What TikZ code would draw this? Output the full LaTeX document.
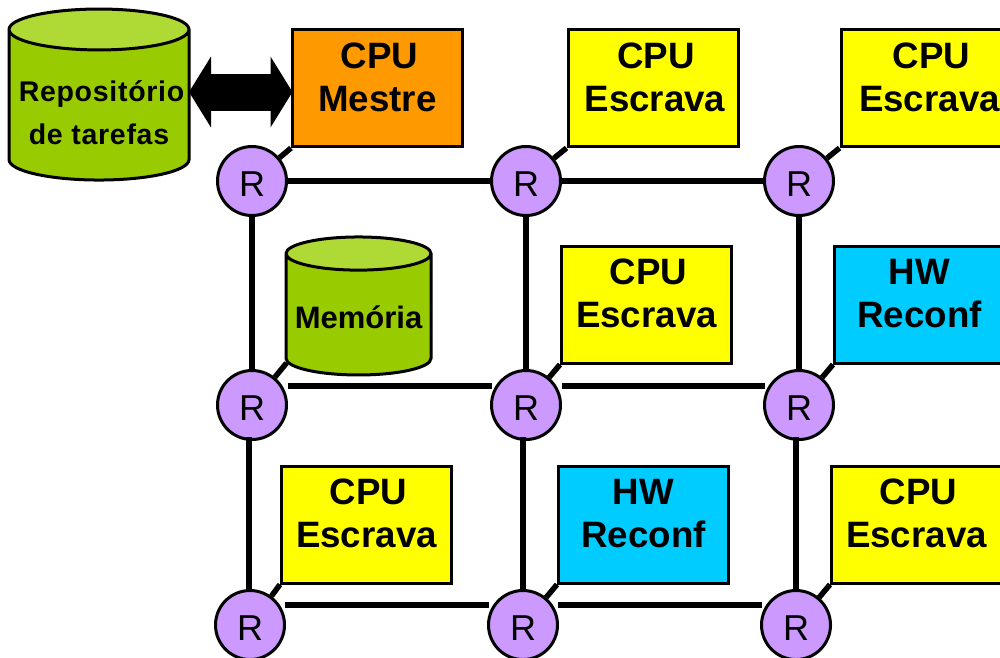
\documentclass[tikz,border=0pt]{standalone}
\usepackage{fontspec}
\setmainfont{Liberation Sans}
\usetikzlibrary{shapes.geometric,arrows.meta}
\definecolor{cylbody}{HTML}{99CC00}
\definecolor{cyltop}{HTML}{AFD934}
\definecolor{masterc}{HTML}{FF9900}
\definecolor{slavec}{HTML}{FFFF00}
\definecolor{hwc}{HTML}{00CCFF}
\definecolor{routerc}{HTML}{CC99FF}
\newcommand\liftup{\\[-21pt]\mbox{}}
\tikzset{
  x=1pt,y=-1pt,
  unitbox/.style={draw=black,line width=3pt,minimum width=170pt,minimum height=117pt,inner sep=0pt,align=center,font=\fontsize{36.7}{43}\selectfont\bfseries},
  master/.style={unitbox,fill=masterc},
  slave/.style={unitbox,fill=slavec},
  hwbox/.style={unitbox,fill=hwc},
  router/.style={circle,draw=black,line width=3pt,fill=routerc,minimum size=69pt,inner sep=0pt,font=\fontsize{36}{36}\selectfont,text height=31.5pt,text depth=0pt},
  store/.style={cylinder,shape border rotate=90,draw=black,line width=3pt,cylinder uses custom fill,cylinder body fill=cylbody,cylinder end fill=cyltop,inner sep=0pt,align=center},
  link/.style={line width=5.5pt,draw=black}
}
\begin{document}
\begin{tikzpicture}
\clip (0,0) rectangle (1000,657);
\fill[white] (0,0) rectangle (1000,657);
% routers
\node[router] (r11) at (252,181) {R};
\node[router] (r12) at (526,181) {R};
\node[router] (r13) at (799,181) {R};
\node[router] (r21) at (252,405) {R};
\node[router] (r22) at (526,405) {R};
\node[router] (r23) at (799,405) {R};
\node[router] (r31) at (250,625) {R};
\node[router] (r32) at (523,625) {R};
\node[router] (r33) at (796,625) {R};
% processing elements
\node[master] (m) at (377.5,88) {\hspace*{4pt}CPU\\Mestre\liftup};
\node[slave] (s12) at (653,88) {\hspace*{6pt}CPU\\\hspace*{4pt}Escrava\liftup};
\node[slave,minimum width=177pt] (s13) at (929.5,88) {\hspace*{4pt}CPU\\Escrava\liftup};
\node[slave] (s22) at (646.5,304.5) {\hspace*{4pt}CPU\\Escrava\liftup};
\node[hwbox] (h23) at (919.5,304.5) {HW\\Reconf\liftup};
\node[slave] (s31) at (366.5,524.5) {\hspace*{4pt}CPU\\Escrava\liftup};
\node[hwbox] (h32) at (643.5,524.5) {HW\\Reconf\liftup};
\node[slave] (s33) at (916.5,524.5) {\hspace*{4pt}CPU\\Escrava\liftup};
% storage
\node[store,minimum width=180pt,minimum height=171pt,aspect=0.24,
      font=\fontsize{28.5}{43}\selectfont\bfseries\addfontfeature{LetterSpace=2.5}] (repo) at (99,105.5)
  {\mbox{}\\[-7pt]\hspace*{5pt}Repositório\\de tarefas};
\node[store,minimum width=145pt,minimum height=138pt,aspect=0.26,
      font=\fontsize{31}{36}\selectfont\bfseries] (mem) at (358.5,315)
  {\mbox{}\\[-8pt]Memória};
% mesh links
\draw[link] (r11) -- (r12);
\draw[link] (r12) -- (r13);
\draw[link] ([shift={(36,-19)}]r21.center) -- ([shift={(-34,-19)}]r22.center);
\draw[link] ([shift={(36,-19)}]r22.center) -- ([shift={(-34,-19)}]r23.center);
\draw[link] ([shift={(35,-20)}]r31.center) -- ([shift={(-34,-20)}]r32.center);
\draw[link] ([shift={(35,-20)}]r32.center) -- ([shift={(-34,-20)}]r33.center);
\draw[link] (r11) -- (r21);
\draw[link] (r12) -- (r22);
\draw[link] (r13) -- (r23);
\draw[link] ([shift={(-3,32)}]r21.center) -- ([shift={(-1,-35)}]r31.center);
\draw[link] ([shift={(-3,32)}]r22.center) -- ([shift={(0,-35)}]r32.center);
\draw[link] ([shift={(-3,32)}]r23.center) -- ([shift={(0,-35)}]r33.center);
% router to element links
\draw[link] (r11) -- (m.south west);
\draw[link] (r12) -- (s12.south west);
\draw[link] (r13) -- (s13.south west);
\draw[link] (r21) -- ([shift={(-72,48)}]mem.center);
\draw[link] (r22) -- (s22.south west);
\draw[link] (r23) -- (h23.south west);
\draw[link] (r31) -- (s31.south west);
\draw[link] (r32) -- (h32.south west);
\draw[link] (r33) -- (s33.south west);
% bus between repository and master CPU
\draw[line width=37pt,{Triangle[length=22pt,width=70pt]}-{Triangle[length=22pt,width=70pt]}]
  ([shift={(90,-13.5)}]repo.center) -- ([shift={(-85,4)}]m.center);
\end{tikzpicture}
\end{document}
